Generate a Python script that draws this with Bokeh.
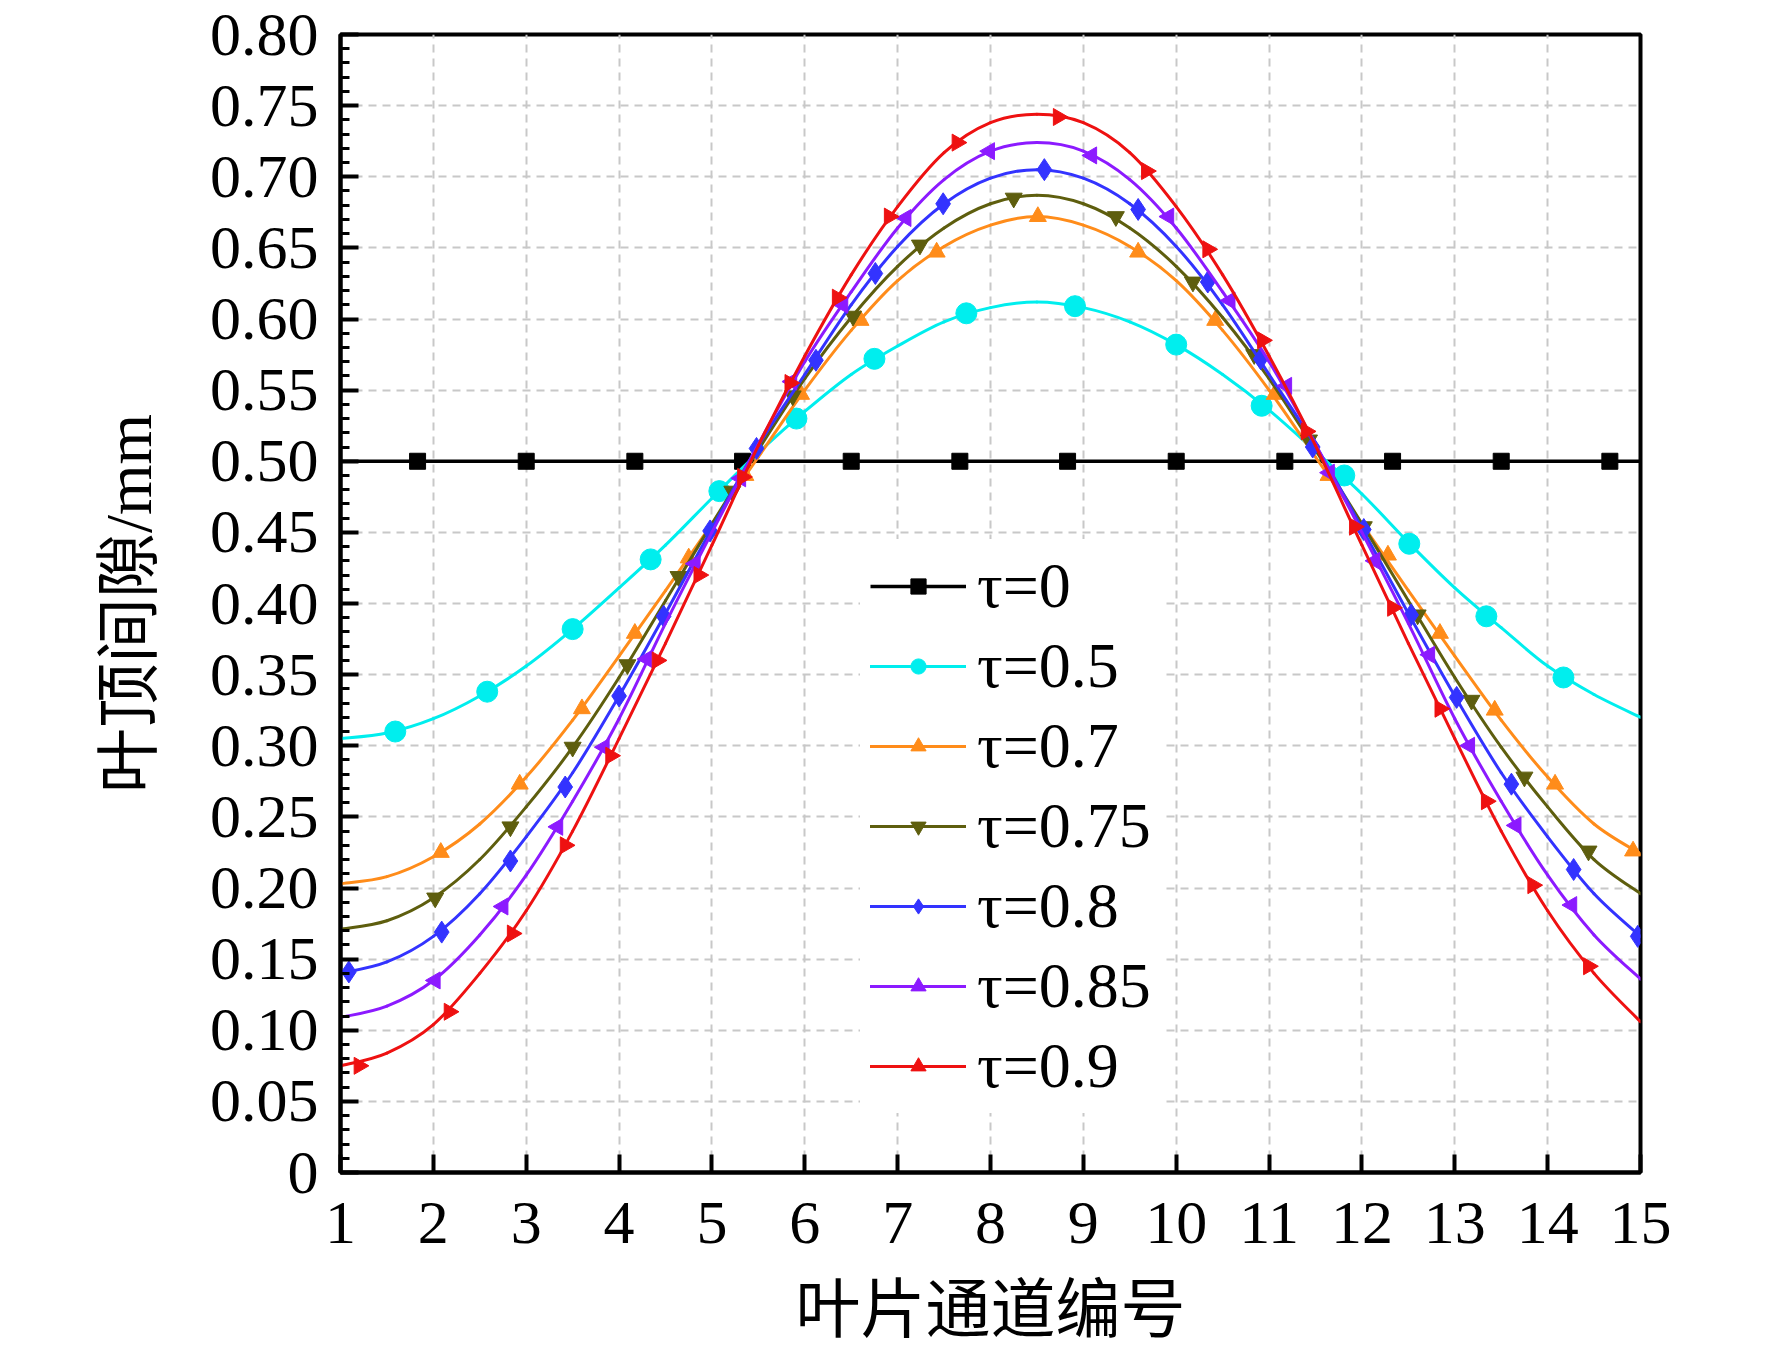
from bokeh.plotting import figure
from bokeh.models import FixedTicker, Legend, LegendItem, ColumnDataSource
from bokeh.embed import file_html
from bokeh.resources import INLINE
import math

# ---------------- data ----------------
x_line = [1, 1.5, 2, 2.5, 3, 3.5, 4, 4.5, 5, 5.5, 6, 6.5, 7, 7.5, 8, 8.5,
          9, 9.5, 10, 10.5, 11, 11.5, 12, 12.5, 13, 13.5, 14, 14.5, 15]

tau0_line_x = [1, 15]
tau0_line_y = [0.5, 0.5]
tau0_mk_x = [1.83, 3.0, 4.17, 5.33, 6.5, 7.67, 8.83, 10.0, 11.17, 12.33, 13.5, 14.67]
tau0_mk_y = [0.5, 0.5, 0.5, 0.5, 0.5, 0.5, 0.5, 0.5, 0.5, 0.5, 0.5, 0.5]

tau05_y = [0.305, 0.309, 0.319, 0.335, 0.356, 0.382, 0.411, 0.441, 0.474, 0.506,
           0.535, 0.561, 0.581, 0.598, 0.608, 0.612, 0.608, 0.598, 0.582, 0.561,
           0.536, 0.507, 0.477, 0.443, 0.411, 0.383, 0.356, 0.336, 0.320]
tau05_mk_x = [1.59, 2.58, 3.50, 4.34, 5.08, 5.91, 6.75, 7.74, 8.91, 10.0, 10.92,
              11.81, 12.51, 13.34, 14.17]
tau05_mk_y = [0.310, 0.338, 0.382, 0.431, 0.479, 0.530, 0.572, 0.604, 0.609, 0.582,
              0.539, 0.490, 0.442, 0.391, 0.348]

tau07_y = [0.203, 0.208, 0.222, 0.245, 0.278, 0.318, 0.363, 0.409, 0.456, 0.503,
           0.550, 0.592, 0.627, 0.651, 0.666, 0.672, 0.666, 0.651, 0.627, 0.592,
           0.550, 0.503, 0.456, 0.409, 0.363, 0.318, 0.278, 0.245, 0.224]
tau07_mk_x = [2.08, 2.93, 3.60, 4.17, 4.75, 5.36, 5.96, 6.60, 7.42, 8.51, 9.59,
              10.42, 11.06, 11.64, 12.28, 12.84, 13.43, 14.08, 14.92]
tau07_mk_y = [0.225, 0.273, 0.326, 0.379, 0.432, 0.490, 0.547, 0.599, 0.647, 0.672,
              0.647, 0.599, 0.547, 0.490, 0.434, 0.379, 0.325, 0.273, 0.226]

tau075_y = [0.171, 0.177, 0.193, 0.220, 0.257, 0.299, 0.348, 0.402, 0.456, 0.508,
            0.558, 0.601, 0.637, 0.664, 0.681, 0.687, 0.681, 0.664, 0.637, 0.601,
            0.558, 0.508, 0.456, 0.402, 0.348, 0.299, 0.257, 0.220, 0.196]
tau075_mk_x = [2.02, 2.83, 3.50, 4.09, 4.64, 5.22, 5.87, 6.52, 7.24, 8.25, 9.35,
               10.18, 10.84, 11.43, 12.02, 12.60, 13.18, 13.75, 14.44]
tau075_mk_y = [0.193, 0.243, 0.299, 0.357, 0.419, 0.479, 0.546, 0.602, 0.652, 0.685,
               0.672, 0.626, 0.575, 0.515, 0.454, 0.392, 0.332, 0.278, 0.226]

tau08_y = [0.140, 0.148, 0.166, 0.196, 0.236, 0.281, 0.335, 0.393, 0.453, 0.511,
           0.561, 0.610, 0.651, 0.681, 0.699, 0.705, 0.699, 0.681, 0.651, 0.610,
           0.561, 0.511, 0.453, 0.393, 0.335, 0.281, 0.236, 0.196, 0.166]
tau08_mk_x = [1.09, 2.09, 2.83, 3.42, 4.00, 4.48, 4.98, 5.48, 6.12, 6.76, 7.49,
              8.58, 9.59, 10.34, 10.91, 11.47, 12.02, 12.53, 13.02, 13.61, 14.28, 14.97]
tau08_mk_y = [0.141, 0.169, 0.219, 0.271, 0.335, 0.391, 0.451, 0.509, 0.571, 0.632,
              0.681, 0.705, 0.677, 0.626, 0.572, 0.510, 0.452, 0.392, 0.334, 0.273,
              0.213, 0.166]

tau085_y = [0.109, 0.117, 0.135, 0.167, 0.209, 0.261, 0.319, 0.386, 0.450, 0.512,
            0.570, 0.619, 0.664, 0.698, 0.718, 0.724, 0.718, 0.698, 0.664, 0.619,
            0.570, 0.512, 0.450, 0.386, 0.319, 0.261, 0.209, 0.167, 0.136]
tau085_mk_x = [2.02, 2.75, 3.34, 3.84, 4.30, 4.82, 5.31, 5.86, 6.41, 7.09, 7.99,
               9.09, 9.92, 10.58, 11.19, 11.65, 12.14, 12.73, 13.16, 13.66, 14.26]
tau085_mk_y = [0.135, 0.187, 0.243, 0.299, 0.361, 0.428, 0.488, 0.556, 0.610, 0.671,
               0.718, 0.715, 0.672, 0.613, 0.553, 0.492, 0.430, 0.364, 0.300, 0.244,
               0.188]

tau09_y = [0.075, 0.084, 0.104, 0.140, 0.184, 0.240, 0.305, 0.372, 0.441, 0.511,
           0.574, 0.631, 0.679, 0.717, 0.738, 0.744, 0.738, 0.717, 0.679, 0.631,
           0.574, 0.511, 0.441, 0.372, 0.305, 0.240, 0.184, 0.140, 0.106]
tau09_mk_x = [1.20, 2.17, 2.85, 3.42, 3.91, 4.41, 4.86, 5.33, 5.84, 6.35, 6.91,
              7.64, 8.73, 9.68, 10.34, 10.93, 11.40, 11.92, 12.33, 12.84, 13.34,
              13.84, 14.44]
tau09_mk_y = [0.075, 0.113, 0.168, 0.230, 0.293, 0.360, 0.420, 0.489, 0.555, 0.615,
              0.672, 0.724, 0.742, 0.704, 0.649, 0.585, 0.521, 0.454, 0.397, 0.326,
              0.261, 0.202, 0.145]

series_labels = ["τ=0", "τ=0.5", "τ=0.7", "τ=0.75", "τ=0.8", "τ=0.85", "τ=0.9"]

x_ticks = [1, 2, 3, 4, 5, 6, 7, 8, 9, 10, 11, 12, 13, 14, 15]
x_tick_labels = ["1", "2", "3", "4", "5", "6", "7", "8", "9", "10", "11", "12", "13", "14", "15"]
y_ticks = [0, 0.05, 0.1, 0.15, 0.2, 0.25, 0.3, 0.35, 0.4, 0.45, 0.5, 0.55, 0.6,
           0.65, 0.7, 0.75, 0.8]
y_tick_labels = ["0", "0.05", "0.10", "0.15", "0.20", "0.25", "0.30", "0.35", "0.40",
                 "0.45", "0.50", "0.55", "0.60", "0.65", "0.70", "0.75", "0.80"]

x_label = "叶片通道编号"
y_label = "叶顶间隙/mm"


def spline_segments(xs, ys):
    """Catmull-Rom segments through the read points, as cubic Bezier pieces."""
    n = len(xs)
    out = dict(x0=[], y0=[], x1=[], y1=[], cx0=[], cy0=[], cx1=[], cy1=[])
    for i in range(n - 1):
        im, ip2 = max(i - 1, 0), min(i + 2, n - 1)
        out["x0"].append(xs[i]); out["y0"].append(ys[i])
        out["x1"].append(xs[i + 1]); out["y1"].append(ys[i + 1])
        out["cx0"].append(xs[i] + (xs[i + 1] - xs[im]) / 6.0)
        out["cy0"].append(ys[i] + (ys[i + 1] - ys[im]) / 6.0)
        out["cx1"].append(xs[i + 1] - (xs[ip2] - xs[i]) / 6.0)
        out["cy1"].append(ys[i + 1] - (ys[ip2] - ys[i]) / 6.0)
    return out


# ---------------- figure ----------------
SERIF = "Liberation Serif"
MIXED = "'Liberation Serif', 'Noto Sans CJK SC'"

p = figure(output_backend="svg", toolbar_location=None,
           frame_width=1300, frame_height=1138,
           x_range=(1, 15), y_range=(0, 0.8),
           min_border_left=340, min_border_top=34,
           min_border_right=115, min_border_bottom=175)
p.background_fill_color = "white"
p.border_fill_color = "white"
p.outline_line_color = "black"
p.outline_line_width = 4

p.xaxis.ticker = FixedTicker(ticks=x_ticks, minor_ticks=[])
p.yaxis.ticker = FixedTicker(ticks=y_ticks,
                             minor_ticks=[round(i * 0.01, 2) for i in range(81) if i % 5])
p.xaxis.major_label_overrides = {t: l for t, l in zip(x_ticks, x_tick_labels)}
p.yaxis.major_label_overrides = {t: l for t, l in zip(y_ticks, y_tick_labels)}

for ax in (p.xaxis[0], p.yaxis[0]):
    ax.axis_line_width = 4
    ax.axis_line_color = "black"
    ax.major_tick_in = 18
    ax.major_tick_out = 0
    ax.major_tick_line_width = 4
    ax.minor_tick_in = 9
    ax.minor_tick_out = 0
    ax.minor_tick_line_width = 3
    ax.major_label_text_font = SERIF
    ax.major_label_text_font_size = "62px"
    ax.major_label_text_color = "black"
    ax.axis_label_text_font = MIXED
    ax.axis_label_text_font_size = "65px"
    ax.axis_label_text_font_style = "normal"
    ax.axis_label_text_color = "black"

p.xaxis.minor_tick_line_color = None
p.xaxis.major_label_standoff = 30
p.yaxis.major_label_standoff = 22
p.xaxis.axis_label = x_label
p.yaxis.axis_label = y_label
p.xaxis.axis_label_standoff = 28
p.yaxis.axis_label_standoff = 42

for g in (p.xgrid[0], p.ygrid[0]):
    g.grid_line_color = "#c8c8c8"
    g.grid_line_width = 2
    g.grid_line_dash = "8 6"

# ---------------- series ----------------
colors = ["#000000", "#00EEEE", "#FF8C1A", "#5E5E0E", "#3333FF", "#8C1AFF", "#EE1111"]
items = []

l0 = p.line(tau0_line_x, tau0_line_y, line_color=colors[0], line_width=3.5)
s0 = p.scatter(tau0_mk_x, tau0_mk_y, marker="square", size=16, color=colors[0])
items.append(LegendItem(label=series_labels[0], renderers=[l0, s0]))

curves = [
    (tau05_y, tau05_mk_x, tau05_mk_y, "circle", 21, 0.0),
    (tau07_y, tau07_mk_x, tau07_mk_y, "triangle", 17, 0.0),
    (tau075_y, tau075_mk_x, tau075_mk_y, "inverted_triangle", 17, 0.0),
    (tau08_y, tau08_mk_x, tau08_mk_y, "diamond", 22, 0.0),
    (tau085_y, tau085_mk_x, tau085_mk_y, "triangle", 17, math.pi / 2),
    (tau09_y, tau09_mk_x, tau09_mk_y, "triangle", 17, -math.pi / 2),
]
for k, (ys, mx, my, mk, sz, ang) in enumerate(curves, start=1):
    src = ColumnDataSource(spline_segments(x_line, ys))
    ln = p.bezier(x0="x0", y0="y0", x1="x1", y1="y1", cx0="cx0", cy0="cy0",
                  cx1="cx1", cy1="cy1", source=src,
                  line_color=colors[k], line_width=3, line_cap="round")
    sc = p.scatter(mx, my, marker=mk, size=sz, angle=ang, color=colors[k])
    items.append(LegendItem(label=series_labels[k], renderers=[ln, sc]))

legend = Legend(items=items, location=(520, 59), orientation="vertical",
                glyph_width=96, glyph_height=38, label_height=60,
                label_standoff=11, spacing=6, padding=10, margin=0,
                label_text_font=SERIF, label_text_font_size="64px",
                label_text_color="black",
                background_fill_color="white", background_fill_alpha=1.0,
                border_line_alpha=0)
p.add_layout(legend, "center")

open("out.html", "w").write(file_html(p, INLINE))
